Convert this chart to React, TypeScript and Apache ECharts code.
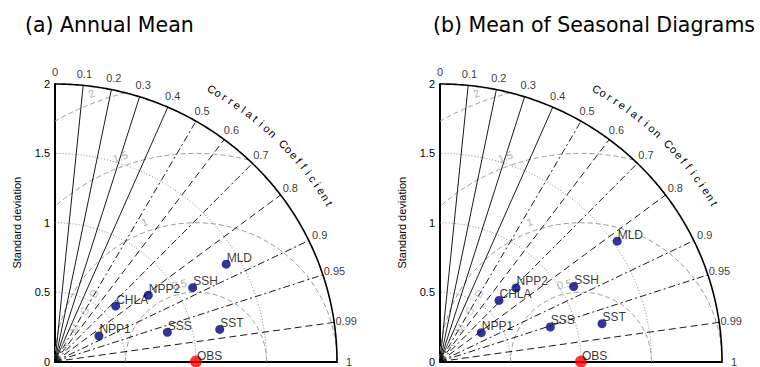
import React, { useEffect, useRef } from "react";
import * as echarts from "echarts";

// ---- data ----
const panelTitles = ["(a) Annual Mean", "(b) Mean of Seasonal Diagrams"];
const modelNames = ["NPP1", "CHLA", "NPP2", "SSS", "SSH", "MLD", "SST"];
const stdAnnual = [0.362, 0.587, 0.816, 0.824, 1.112, 1.402, 1.191];
const corrAnnual = [0.861, 0.733, 0.811, 0.967, 0.878, 0.866, 0.981];
const stdSeasonal = [0.359, 0.607, 0.756, 0.821, 1.091, 1.527, 1.181];
const corrSeasonal = [0.816, 0.689, 0.713, 0.953, 0.869, 0.823, 0.973];
const obsName = "OBS";
const obsStd = 1;
const obsCorr = 1;
const corrLines = [0.1, 0.2, 0.3, 0.4, 0.5, 0.6, 0.7, 0.8, 0.9, 0.95, 0.99];
const corrTickLabels = ["0", "0.1", "0.2", "0.3", "0.4", "0.5", "0.6", "0.7", "0.8", "0.9", "0.95", "0.99", "1"];
const stdArcs = [0.5, 1, 1.5];
const stdMax = 2;
const rmsLevels = [0.5, 1, 1.5, 2];
const rmsLabels = ["0.5", "1", "1.5", "2"];
const rmsLabelAngles = [102, 110, 110, 111];
const corrTitle = "Correlation Coefficient";
const rmsTitle = "RMSD";

// ---- styles ----
const DEG = Math.PI / 180;
const FONT = "Liberation Sans, Arial, sans-serif";
const dashDot = [7, 3, 2, 3];
const dash = [7, 4];
const corrLineTypes: any[] = ["solid", "solid", "solid", "solid", dashDot, dash, dashDot, dash, dashDot, dashDot, dash];
const GRID_LEFT = [55, 440];
const GRID_TOP = 84;
const GRID_SIZE = 282;
const TITLE_ARC_R = 2.255;
const TITLE_ARC_START = 60.5;
const TITLE_ARC_END = 30.3;

function polarToXY(r: number, c: number): [number, number] {
  return [r * c, r * Math.sqrt(Math.max(0, 1 - c * c))];
}

function arc(cx: number, R: number, a0: number, a1: number, n = 120): number[][] {
  const pts: number[][] = [];
  for (let i = 0; i <= n; i++) {
    const a = (a0 + ((a1 - a0) * i) / n) * DEG;
    pts.push([cx + R * Math.cos(a), R * Math.sin(a)]);
  }
  return pts;
}

function buildPanel(gi: number, stds: number[], corrs: number[]): any[] {
  const base = { xAxisIndex: gi, yAxisIndex: gi, silent: true, animation: false };
  const lineS = (data: number[][], lineStyle: any, z = 2) => ({
    ...base,
    type: "line",
    data,
    symbol: "none",
    showSymbol: false,
    clip: false,
    z,
    lineStyle,
  });
  const textS = (items: any[], style: any, z = 6) => ({
    ...base,
    type: "scatter",
    symbolSize: 1,
    itemStyle: { color: "transparent" },
    clip: false,
    z,
    data: items,
    label: { show: true, position: "inside", formatter: "{b}", fontFamily: FONT, ...style },
  });

  const s: any[] = [];
  stdArcs.forEach((r) => s.push(lineS(arc(0, r, 0, 90), { color: "#888", width: 1, type: [1, 2] })));
  rmsLevels.forEach((R) => {
    const pMin = Math.acos(Math.min(1, (stdMax * stdMax - 1 - R * R) / (2 * R))) / DEG;
    const pMax = Math.acos(Math.max(-1, -1 / R)) / DEG;
    s.push(lineS(arc(obsStd, R, pMin, pMax), { color: "#999", width: 1, type: [5, 3] }));
  });
  corrLines.forEach((c, i) =>
    s.push(lineS([[0, 0], polarToXY(stdMax, c)], { color: "#000", width: 0.9, type: corrLineTypes[i] }, 3))
  );
  s.push(lineS(arc(0, stdMax, 0, 90, 180), { color: "#000", width: 1.6, type: "solid" }, 4));

  s.push(
    textS(
      corrTickLabels.map((t) => ({ name: t, value: polarToXY(stdMax * 1.043, parseFloat(t)) })),
      { fontSize: 11, color: "#000" }
    )
  );
  s.push(
    textS(
      rmsLevels.map((R, i) => {
        const a = rmsLabelAngles[i] * DEG;
        const rr = R + 0.07;
        return {
          name: rmsLabels[i],
          value: [obsStd + rr * Math.cos(a), rr * Math.sin(a)],
          label: { rotate: rmsLabelAngles[i] - 90 },
        };
      }),
      { fontSize: 11, color: "#999" },
      3
    )
  );
  s.push(
    textS(
      rmsTitle.split("").map((ch, i) => ({
        name: ch,
        value: [0.072 + 0.068 * i, 0.112 + 0.126 * i],
        label: { rotate: 62 },
      })),
      { fontSize: 11, color: "#aaa" },
      3
    )
  );
  s.push({
    ...base,
    type: "scatter",
    symbol: "circle",
    symbolSize: 9,
    clip: false,
    z: 8,
    itemStyle: { color: "#00007f" },
    data: modelNames.map((n, i) => ({ name: n, value: polarToXY(stds[i], corrs[i]) })),
    label: {
      show: true,
      formatter: "{b}",
      position: [5, -2],
      align: "left",
      verticalAlign: "middle",
      fontSize: 12,
      fontFamily: FONT,
      color: "#000",
    },
  });
  s.push({
    ...base,
    type: "scatter",
    symbol: "circle",
    symbolSize: 12,
    clip: false,
    z: 9,
    itemStyle: { color: "#ff0000" },
    data: [{ name: obsName, value: polarToXY(obsStd, obsCorr) }],
    label: {
      show: true,
      formatter: "{b}",
      position: [7, 0],
      align: "left",
      verticalAlign: "middle",
      fontSize: 12,
      fontFamily: FONT,
      color: "#000",
    },
  });
  return s;
}

export default function App() {
  const ref = useRef<HTMLDivElement>(null);
  useEffect(() => {
    if (!ref.current) return;
    const chart = echarts.init(ref.current, undefined, { renderer: "svg" });
    const grids = GRID_LEFT.map((l) => ({ left: l, top: GRID_TOP, width: GRID_SIZE, height: GRID_SIZE }));
    const xAxes = GRID_LEFT.map((_, i) => ({
      gridIndex: i,
      type: "value",
      min: 0,
      max: stdMax,
      axisLine: { show: true, lineStyle: { color: "#000", width: 2 } },
      axisTick: { show: false },
      axisLabel: { show: false },
      splitLine: { show: false },
    }));
    const yAxes = GRID_LEFT.map((_, i) => ({
      gridIndex: i,
      type: "value",
      min: 0,
      max: stdMax,
      interval: 0.5,
      axisLine: { show: true, onZero: false, lineStyle: { color: "#000", width: 2 } },
      axisTick: { show: false },
      axisLabel: { color: "#000", fontSize: 11, fontFamily: FONT, margin: 5 },
      splitLine: { show: false },
      name: "Standard deviation",
      nameLocation: "middle",
      nameGap: 33,
      nameTextStyle: { color: "#000", fontSize: 11, fontFamily: FONT },
    }));
    const option: any = {
      animation: false,
      backgroundColor: "#fff",
      title: panelTitles.map((t, i) => ({
        text: t,
        left: i === 0 ? 20 : 428,
        top: 9,
        textStyle: { fontSize: 20.5, fontWeight: "normal", fontFamily: "DejaVu Sans", color: "#000" },
      })),
      grid: grids,
      xAxis: xAxes,
      yAxis: yAxes,
      series: [...buildPanel(0, stdAnnual, corrAnnual), ...buildPanel(1, stdSeasonal, corrSeasonal)],
    };
    chart.setOption(option);

    // "Correlation Coefficient" written character by character along the arc
    const chars = corrTitle.split("");
    const step = (TITLE_ARC_START - TITLE_ARC_END) / (chars.length - 1);
    const graphic: any[] = [];
    GRID_LEFT.forEach((_, gi) => {
      chars.forEach((ch, i) => {
        if (ch === " ") return;
        const a = TITLE_ARC_START - step * i;
        const p = chart.convertToPixel({ gridIndex: gi }, polarToXY(TITLE_ARC_R, Math.cos(a * DEG))) as number[];
        graphic.push({
          type: "text",
          x: p[0],
          y: p[1],
          rotation: (a - 90) * DEG,
          silent: true,
          z: 10,
          style: {
            text: ch,
            fill: "#000",
            font: `11px ${FONT}`,
            textAlign: "center",
            textVerticalAlign: "middle",
          },
        });
      });
    });
    chart.setOption({ graphic });
    return () => chart.dispose();
  }, []);
  return <div ref={ref} style={{ position: "absolute", left: 0, top: 0, width: 760, height: 367 }} />;
}
